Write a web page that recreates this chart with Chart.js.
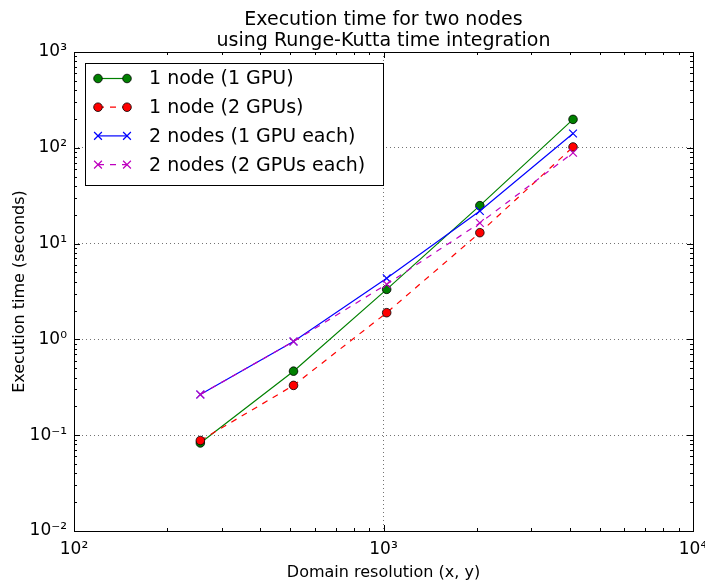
<!DOCTYPE html>
<html>
<head>
<meta charset="utf-8">
<script src="https://cdn.jsdelivr.net/npm/chart.js@4.4.1/dist/chart.umd.min.js"></script>
<style>
  html, body { margin: 0; padding: 0; background: #fff; }
  #grafico { display: block; }
</style>
</head>
<body>
<canvas id="grafico" width="705" height="583"></canvas>
<script>
// dados
const resolucoes = [256, 512, 1024, 2048, 4096];
const umNoUmaGpu = [0.083, 0.466, 3.33, 24.9, 198];
const umNoDuasGpus = [0.088, 0.331, 1.90, 13.0, 102];
const doisNosUmaGpu = [0.266, 0.95, 4.34, 21.9, 141];
const doisNosDuasGpus = [0.266, 0.95, 3.76, 16.4, 88.7];

const legendas = ["1 node (1 GPU)", "1 node (2 GPUs)", "2 nodes (1 GPU each)", "2 nodes (2 GPUs each)"];
const titulo = ["Execution time for two nodes", "using Runge-Kutta time integration"];
const tituloX = "Domain resolution (x, y)";
const tituloY = "Execution time (seconds)";

// expoentes das marcas principais (10^n)
const expoentesX = [2, 3, 4];
const expoentesY = [-2, -1, 0, 1, 2, 3];

const FONTE = '"DejaVu Sans", "Bitstream Vera Sans", sans-serif';
const sobrescrito = { "-": "\u207B", "0": "\u2070", "1": "\u00B9", "2": "\u00B2", "3": "\u00B3", "4": "\u2074" };

function rotuloPotencia(v) {
    const n = Math.round(Math.log10(v));
    return "10" + String(n).split("").map(c => sobrescrito[c]).join("");
}

function eDecada(v) {
    const l = Math.log10(v);
    return Math.abs(l - Math.round(l)) < 1e-9;
}

// marcas principais + secundárias (2..9 em cada década)
function montarMarcas(expoentes) {
    const marcas = [];
    for (let i = 0; i < expoentes.length; i++) {
        const base = Math.pow(10, expoentes[i]);
        marcas.push({ value: base });
        if (i < expoentes.length - 1) {
            for (let m = 2; m <= 9; m++) marcas.push({ value: m * base });
        }
    }
    return marcas;
}

function pontos(valores) {
    return resolucoes.map((r, i) => ({ x: r, y: valores[i] }));
}

// moldura, marcas internas, título e legenda
const moldura = {
    id: 'moldura',
    afterDraw(chart) {
        const { ctx, chartArea: a, scales: { x, y } } = chart;
        ctx.save();
        ctx.strokeStyle = '#000';
        ctx.lineWidth = 1;
        ctx.setLineDash([]);
        ctx.beginPath();
        x.ticks.forEach(t => {
            const px = Math.round(x.getPixelForValue(t.value)) + 0.5;
            const len = eDecada(t.value) ? 6 : 3;
            ctx.moveTo(px, a.bottom); ctx.lineTo(px, a.bottom - len);
            ctx.moveTo(px, a.top); ctx.lineTo(px, a.top + len);
        });
        y.ticks.forEach(t => {
            const py = Math.round(y.getPixelForValue(t.value)) + 0.5;
            const len = eDecada(t.value) ? 6 : 3;
            ctx.moveTo(a.left, py); ctx.lineTo(a.left + len, py);
            ctx.moveTo(a.right, py); ctx.lineTo(a.right - len, py);
        });
        ctx.stroke();
        ctx.strokeRect(Math.round(a.left) + 0.5, Math.round(a.top) + 0.5,
            Math.round(a.right - a.left), Math.round(a.bottom - a.top));

        // título
        const cx = (a.left + a.right) / 2;
        ctx.fillStyle = '#000';
        ctx.font = '19px ' + FONTE;
        ctx.textAlign = 'center';
        ctx.textBaseline = 'alphabetic';
        ctx.fillText(titulo[0], cx, 24.5);
        ctx.fillText(titulo[1], cx, 45.5);

        // legenda
        const bx = 85.5, by = 63.5, bw = 298, bh = 122;
        ctx.fillStyle = '#fff';
        ctx.fillRect(bx, by, bw, bh);
        ctx.strokeStyle = '#000';
        ctx.lineWidth = 1;
        ctx.strokeRect(bx, by, bw, bh);
        chart.data.datasets.forEach((ds, i) => {
            const ly = 78.5 + i * 28.7;
            const x1 = 98, x2 = 127;
            ctx.save();
            ctx.strokeStyle = ds.borderColor;
            ctx.lineWidth = ds.borderWidth;
            ctx.setLineDash(ds.borderDash || []);
            ctx.beginPath();
            ctx.moveTo(x1, ly); ctx.lineTo(x2, ly);
            ctx.stroke();
            ctx.setLineDash([]);
            [x1, x2].forEach(px => {
                ctx.fillStyle = ds.pointBackgroundColor;
                ctx.strokeStyle = ds.pointBorderColor;
                ctx.lineWidth = ds.pointBorderWidth;
                Chart.helpers.drawPoint(ctx, {
                    pointStyle: ds.pointStyle, radius: ds.pointRadius,
                    rotation: 0, borderWidth: ds.pointBorderWidth
                }, px, ly);
            });
            ctx.restore();
            ctx.fillStyle = '#000';
            ctx.font = '19px ' + FONTE;
            ctx.textAlign = 'left';
            ctx.textBaseline = 'middle';
            ctx.fillText(ds.label, 149, ly + 1);
        });
        ctx.restore();
    }
};

const grafico = new Chart(document.getElementById('grafico'), {
    type: 'scatter',
    data: {
        datasets: [
            {
                label: legendas[0], data: pontos(umNoUmaGpu), showLine: true,
                borderColor: '#008000', borderWidth: 1.2,
                pointStyle: 'circle', pointRadius: 4.3,
                pointBackgroundColor: '#008000', pointBorderColor: '#000', pointBorderWidth: 0.8,
                order: 3
            },
            {
                label: legendas[1], data: pontos(umNoDuasGpus), showLine: true,
                borderColor: '#ff0000', borderWidth: 1.2, borderDash: [6, 6],
                pointStyle: 'circle', pointRadius: 4.3,
                pointBackgroundColor: '#ff0000', pointBorderColor: '#000', pointBorderWidth: 0.8,
                order: 2
            },
            {
                label: legendas[2], data: pontos(doisNosUmaGpu), showLine: true,
                borderColor: '#0000ff', borderWidth: 1.2,
                pointStyle: 'crossRot', pointRadius: 5.5,
                pointBackgroundColor: '#0000ff', pointBorderColor: '#0000ff', pointBorderWidth: 1.2,
                order: 1
            },
            {
                label: legendas[3], data: pontos(doisNosDuasGpus), showLine: true,
                borderColor: '#bf00bf', borderWidth: 1.2, borderDash: [6, 6],
                pointStyle: 'crossRot', pointRadius: 5.5,
                pointBackgroundColor: '#bf00bf', pointBorderColor: '#bf00bf', pointBorderWidth: 1.2,
                order: 0
            }
        ]
    },
    options: {
        responsive: false,
        animation: false,
        devicePixelRatio: 1,
        layout: { padding: { top: 52, right: 12, bottom: 0, left: 0 } },
        elements: { line: { tension: 0 } },
        plugins: {
            legend: { display: false },
            title: { display: false },
            tooltip: { enabled: false }
        },
        scales: {
            x: {
                type: 'logarithmic',
                min: Math.pow(10, expoentesX[0]),
                max: Math.pow(10, expoentesX[expoentesX.length - 1]),
                afterBuildTicks: s => { s.ticks = montarMarcas(expoentesX); },
                afterFit: s => { s.height = 52; s.paddingLeft = 0; s.paddingRight = 0; },
                grid: {
                    drawTicks: false,
                    lineWidth: 1,
                    color: c => (c.tick && eDecada(c.tick.value)) ? 'rgba(0,0,0,0.55)' : 'rgba(0,0,0,0)'
                },
                border: { display: false, dash: [1, 3] },
                ticks: {
                    autoSkip: false, maxRotation: 0, padding: 8, color: '#000',
                    font: { family: FONTE, size: 17 },
                    callback: v => eDecada(v) ? rotuloPotencia(v) : ''
                },
                title: {
                    display: true, text: tituloX, color: '#000',
                    font: { family: FONTE, size: 16 },
                    padding: { top: 0, bottom: 1 }
                }
            },
            y: {
                type: 'logarithmic',
                min: Math.pow(10, expoentesY[0]),
                max: Math.pow(10, expoentesY[expoentesY.length - 1]),
                afterBuildTicks: s => { s.ticks = montarMarcas(expoentesY); },
                afterFit: s => { s.width = 74; },
                grid: {
                    drawTicks: false,
                    lineWidth: 1,
                    color: c => (c.tick && eDecada(c.tick.value)) ? 'rgba(0,0,0,0.55)' : 'rgba(0,0,0,0)'
                },
                border: { display: false, dash: [1, 3] },
                ticks: {
                    autoSkip: false, padding: 7, color: '#000',
                    font: { family: FONTE, size: 17 },
                    callback: v => eDecada(v) ? rotuloPotencia(v) : ''
                },
                title: {
                    display: true, text: tituloY, color: '#000',
                    font: { family: FONTE, size: 16 },
                    padding: { top: 10, bottom: 0 }
                }
            }
        }
    },
    plugins: [moldura]
});
</script>
</body>
</html>
